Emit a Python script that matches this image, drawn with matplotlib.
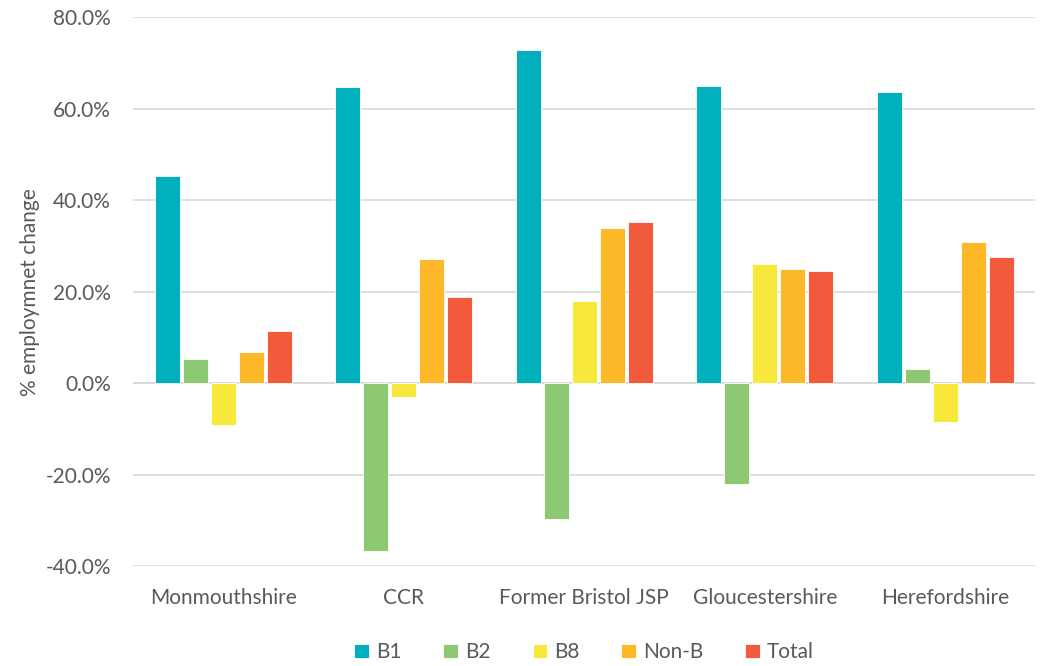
import numpy as np
from matplotlib import pyplot as plt
from matplotlib.ticker import FuncFormatter

regions = ["Monmouthshire", "CCR", "Former Bristol JSP", "Gloucestershire", "Herefordshire"]
series = ["B1", "B2", "B8", "Non-B", "Total"]
b1 = [45.2, 64.7, 72.8, 64.9, 63.6]
b2 = [5.2, -36.7, -29.7, -22.1, 3.1]
b8 = [-9.2, -3.1, 17.9, 26.0, -8.5]
non_b = [6.8, 27.1, 33.9, 24.9, 30.8]
total = [11.4, 18.8, 35.2, 24.5, 27.5]
colors = ["#00B0BC", "#8DC872", "#F9E83C", "#FDB827", "#F15A3A"]

plt.rcParams['font.family'] = ['Lato', 'DejaVu Sans']

fig = plt.figure(figsize=(10.48, 6.66), dpi=100)
ax = fig.add_axes([0.127, 0.15, 0.861, 0.824])

x = np.arange(len(regions))
step = 0.155
width = 0.14
for i, (name, vals) in enumerate(zip(series, [b1, b2, b8, non_b, total])):
    ax.bar(x + (i - 2) * step, vals, width, color=colors[i], label=name,
           edgecolor="white", linewidth=0.6, zorder=3)

ax.set_xlim(-0.5, len(regions) - 0.5)
ax.set_ylim(-40, 80)
ax.set_yticks(np.arange(-40, 81, 20))
ax.yaxis.set_major_formatter(FuncFormatter(lambda v, p: f"{v:.1f}%"))
ax.set_xticks(x)
ax.set_xticklabels(regions)
ax.tick_params(axis="both", length=0, colors="#595959", labelsize=15)
ax.tick_params(axis="x", pad=16)
ax.tick_params(axis="y", pad=16)
ax.grid(axis="y", color="#D9D9D9", linewidth=1.2, zorder=0)
ax.axhline(0, color="#D9D9D9", linewidth=1.2, zorder=2)
for s in ax.spines.values():
    s.set_visible(False)
ax.set_ylabel("% employmnet change", fontsize=15, color="#595959", labelpad=4)

ax.legend(loc="upper center", bbox_to_anchor=(0.5, -0.105), ncol=5, frameon=False,
          fontsize=15, labelcolor="#595959", handlelength=0.7, handleheight=0.7,
          handletextpad=0.35, columnspacing=2.0)

fig.savefig("out.png", dpi=100)
